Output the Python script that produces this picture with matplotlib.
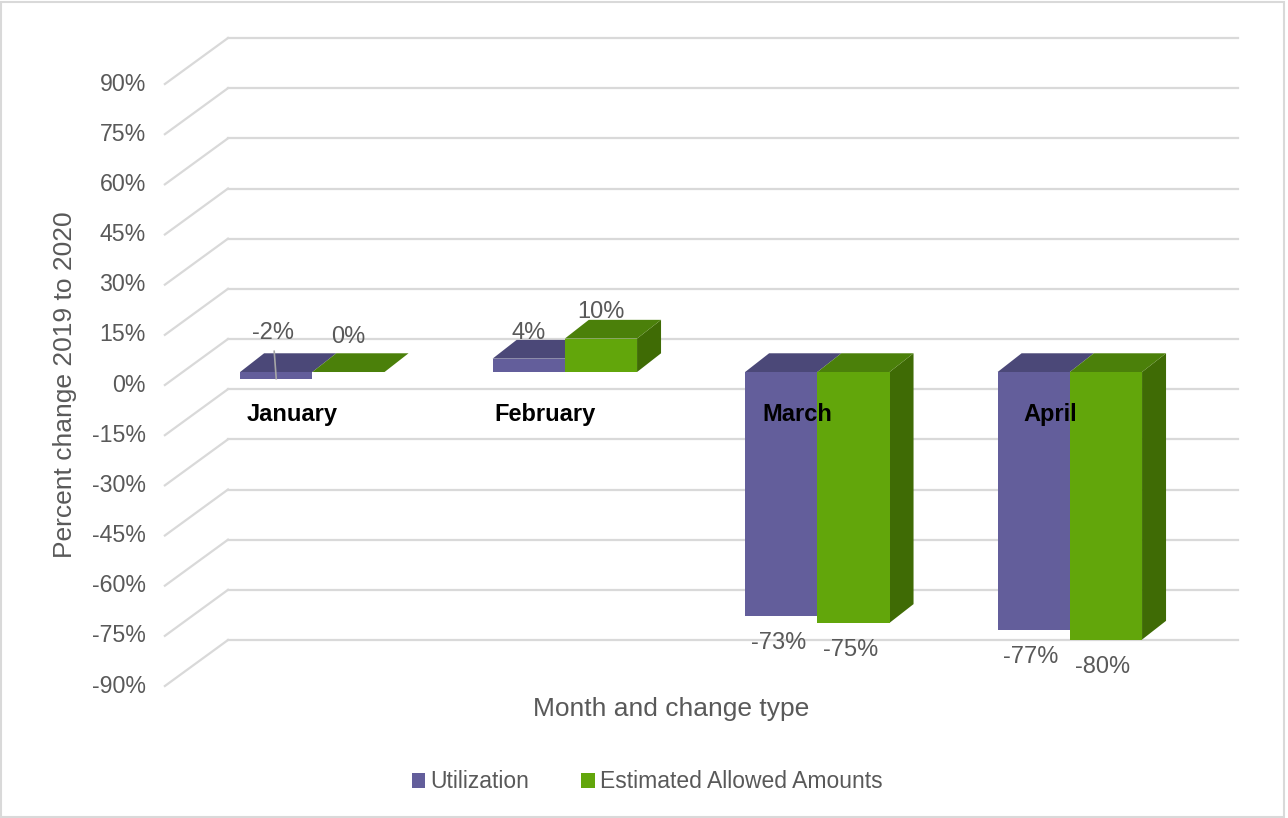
import matplotlib.pyplot as plt
from matplotlib.patches import Polygon, Rectangle, Patch

plt.rcParams['font.family'] = ['Liberation Sans', 'DejaVu Sans']

months = ["January", "February", "March", "April"]
series = ["Utilization", "Estimated Allowed Amounts"]
utilization = [-2, 4, -73, -77]
allowed = [0, 10, -75, -80]
yticks = list(range(-90, 91, 15))

front_col = ["#635E9B", "#62A60B"]
top_col = ["#4B4878", "#4B800A"]
side_col = ["#3D3A66", "#3F6B05"]
grid_col = "#D9D9D9"
txt_col = "#595959"

fig = plt.figure(figsize=(12.88, 8.18), dpi=100)
ax = fig.add_axes([228 / 1288, 178 / 818, 1010 / 1288, 602 / 818])
ax.set_xlim(-0.5, 3.5)
ax.set_ylim(-90, 90)
ax.axis("off")

# oblique "3d" offsets (data units)
wall_dx, wall_dy = 0.25, 13.76    # front edge of floor -> back wall
bar_base = -9.87                  # front face zero level of the bars
bar_shift = -0.166                # bar cluster shift vs category centre
bw = 0.286                        # bar width
ddx, ddy = 0.095, 5.6             # bar depth

# back wall gridlines + diagonal side lines, tick labels at the front
for v in yticks:
    ax.plot([-0.5, 3.5], [v, v], color=grid_col, lw=1.6, clip_on=False, zorder=1)
    ax.plot([-0.5 - wall_dx, -0.5], [v - wall_dy, v], color=grid_col, lw=1.6,
            clip_on=False, zorder=1)
    ax.text(-0.825, v - wall_dy, f"{v}%", ha="right", va="center",
            fontsize=16.7, color=txt_col, clip_on=False)

# category labels sit on top of the bars
for i, m in enumerate(months):
    ax.text(i + bar_shift - 0.079, -22.7, m, ha="center", va="center",
            fontsize=17, fontweight="bold", color="black", zorder=12)

values = [utilization, allowed]
for i in range(len(months)):
    cx = i + bar_shift
    for s in range(2):
        v = values[s][i]
        x0 = cx - bw + s * bw
        lo = bar_base + min(v, 0)
        hi = bar_base + max(v, 0)
        if s == len(values) - 1:
            side = Polygon([(x0 + bw, lo), (x0 + bw + ddx, lo + ddy),
                            (x0 + bw + ddx, hi + ddy), (x0 + bw, hi)],
                           closed=True, fc=side_col[s], ec="none", zorder=3 + s * 3)
            ax.add_patch(side)
        top = Polygon([(x0, hi), (x0 + bw, hi), (x0 + bw + ddx, hi + ddy),
                       (x0 + ddx, hi + ddy)],
                      closed=True, fc=top_col[s], ec="none", zorder=4 + s * 3)
        front = Rectangle((x0, lo), bw, hi - lo, fc=front_col[s], ec="none",
                          zorder=5 + s * 3)
        ax.add_patch(top)
        ax.add_patch(front)

        fx = x0 + bw / 2
        if v >= 0:
            ax.text(fx, hi + 7.8 if v > 0 else hi + 10.6, f"{v}%", ha="center",
                    va="center", fontsize=17, color=txt_col, zorder=10)
        elif v > -5:
            # small negative value: label pulled above with a leader line
            ax.text(fx - 0.012, bar_base + 11.7, f"{v}%", ha="center",
                    va="center", fontsize=17, color=txt_col, zorder=10)
            ax.plot([fx - 0.008, fx], [bar_base + 6.2, lo], color="#A6A6A6",
                    lw=1.2, zorder=10)
        else:
            ax.text(fx - 0.012, lo - 8.1, f"{v}%", ha="center", va="center",
                    fontsize=17, color=txt_col, zorder=10)

fig.text(65 / 1288, 1 - 385 / 818, "Percent change 2019 to 2020", rotation=90,
         ha="center", va="center", fontsize=19, color=txt_col)
fig.text(671 / 1288, 1 - 709 / 818, "Month and change type", ha="center",
         va="center", fontsize=19, color=txt_col)

handles = [Patch(fc=front_col[0]), Patch(fc=front_col[1])]
fig.legend(handles, series, loc="center", bbox_to_anchor=(647 / 1288, 1 - 782 / 818),
           ncol=2, frameon=False, fontsize=16.5, handlelength=0.6, handleheight=0.6,
           handletextpad=0.2, columnspacing=2.3, labelcolor=txt_col)

fig.patches.append(Rectangle((0.001, 0.001), 0.996, 0.997, transform=fig.transFigure,
                             fill=False, ec=grid_col, lw=1.5))

fig.savefig("out.png", dpi=100)
